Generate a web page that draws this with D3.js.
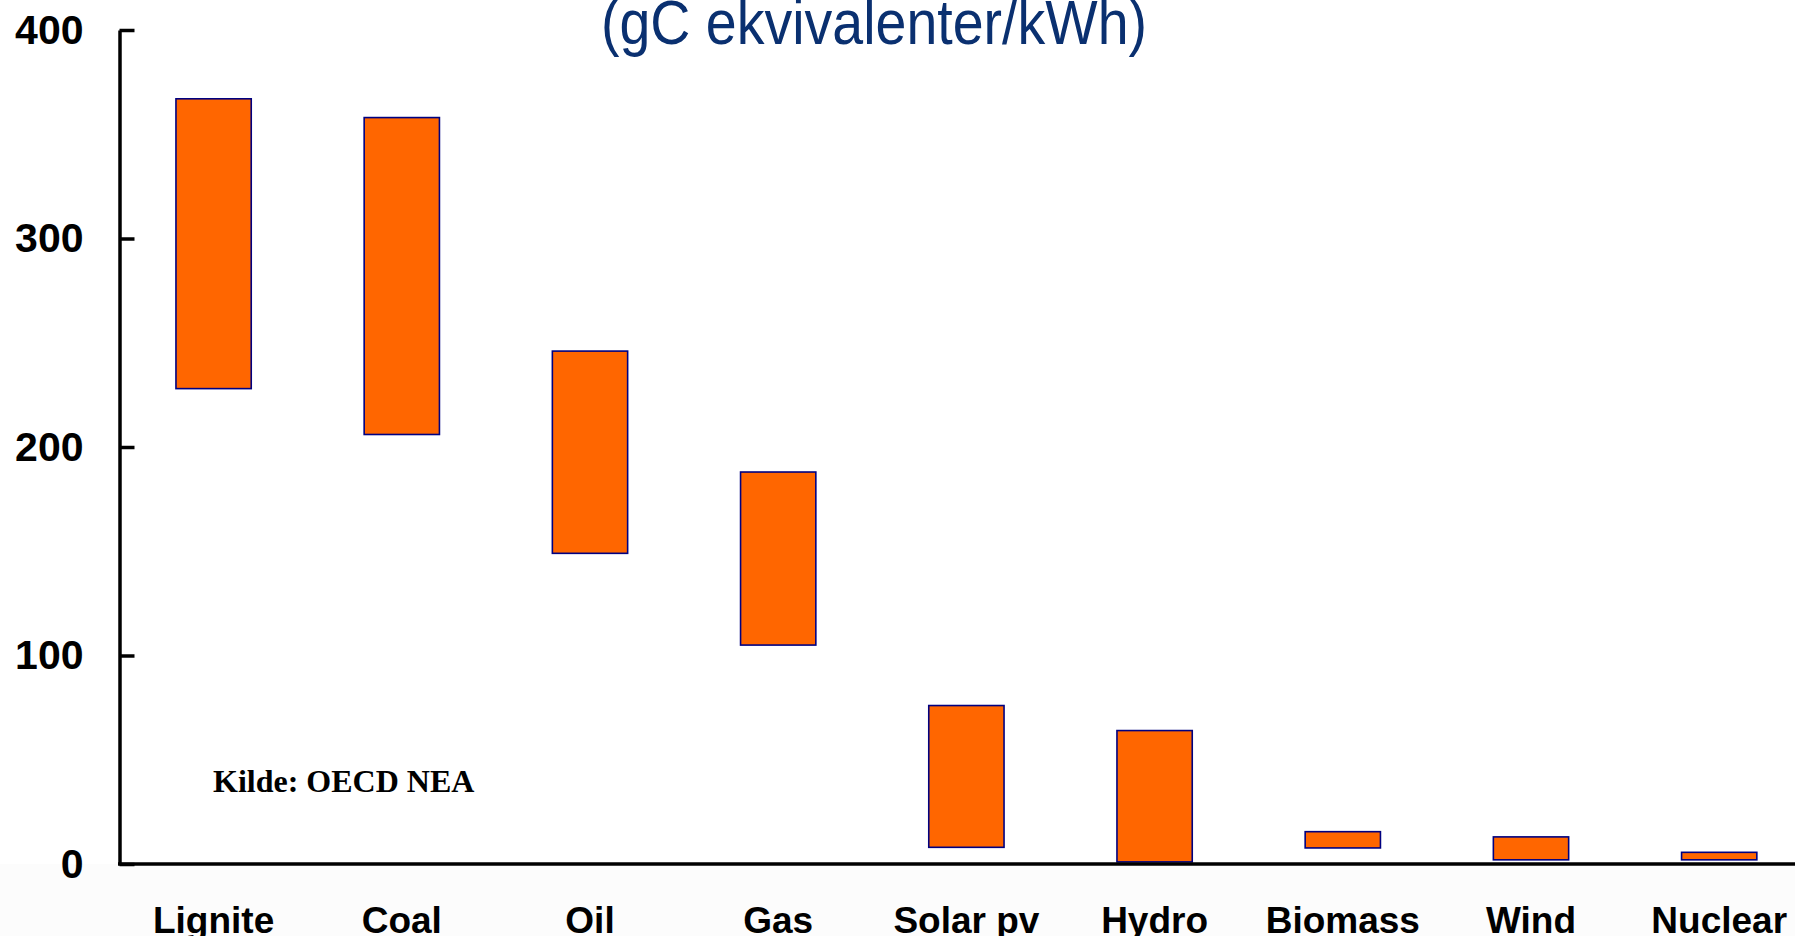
<!DOCTYPE html>
<html>
<head>
<meta charset="utf-8">
<script src="https://cdn.jsdelivr.net/npm/d3@7"></script>
<style>
  body { margin: 0; background: #ffffff; }
  svg { display: block; }
</style>
</head>
<body>
<svg id="chart" width="1795" height="936"></svg>
<script>
// data (gC ekvivalenter/kWh), low and high end per source
const categories = ["Lignite", "Coal", "Oil", "Gas", "Solar pv", "Hydro", "Biomass", "Wind", "Nuclear"];
const lowValues  = [228, 206, 149, 105, 8, 1, 7.7, 2, 2];
const highValues = [367, 358, 246, 188, 76, 64, 15.5, 13, 5.6];
const yTicks = [0, 100, 200, 300, 400];

const svg = d3.select("#chart");
const width = 1795;

// scales
const x = d3.scaleBand()
  .domain(categories)
  .range([119.5, 119.5 + 9 * 188.2])
  .paddingInner(0.6)
  .paddingOuter(0.3);

const y = d3.scaleLinear()
  .domain([0, 400])
  .range([864, 30]);

// faint grey strip under the x axis, like the slide
svg.append("rect")
  .attr("x", 0)
  .attr("y", y(0))
  .attr("width", width)
  .attr("height", 936 - y(0))
  .attr("fill", "#fcfcfc");

// floating bars
const rows = categories.map((c, i) => ({ name: c, low: lowValues[i], high: highValues[i] }));

svg.selectAll("rect.bar")
  .data(rows)
  .enter()
  .append("rect")
  .attr("class", "bar")
  .attr("x", d => x(d.name))
  .attr("width", x.bandwidth())
  .attr("y", d => y(d.high))
  .attr("height", d => y(d.low) - y(d.high))
  .attr("fill", "#ff6600")
  .attr("stroke", "#000080")
  .attr("stroke-width", 1.6);

// y axis, ticks point inward
const yAxis = svg.append("g")
  .attr("transform", "translate(119.5,0)")
  .call(d3.axisLeft(y).tickValues(yTicks).tickSizeInner(-15).tickSizeOuter(0).tickPadding(36));

yAxis.select(".domain").attr("stroke", "#000").attr("stroke-width", 3.5);
yAxis.selectAll(".tick line").attr("stroke", "#000").attr("stroke-width", 3.5);
yAxis.selectAll(".tick text")
  .attr("font-family", "Liberation Sans, Arial, sans-serif")
  .attr("font-weight", "bold")
  .attr("font-size", "41px")
  .attr("fill", "#000");

// x axis line across the whole width
svg.append("line")
  .attr("x1", 118)
  .attr("x2", width)
  .attr("y1", y(0))
  .attr("y2", y(0))
  .attr("stroke", "#000")
  .attr("stroke-width", 3.5);

// category labels (cut at the bottom edge as in the slide)
svg.selectAll("text.cat")
  .data(categories)
  .enter()
  .append("text")
  .attr("class", "cat")
  .attr("x", d => x(d) + x.bandwidth() / 2)
  .attr("y", 933)
  .attr("text-anchor", "middle")
  .attr("font-family", "Liberation Sans, Arial, sans-serif")
  .attr("font-weight", "bold")
  .attr("font-size", "37px")
  .attr("fill", "#000")
  .text(d => d);

// title (cut at the top of the slide), narrow and tall
svg.append("text")
  .attr("x", 601)
  .attr("y", 44)
  .attr("font-family", "Liberation Sans Narrow, Arial Narrow, Liberation Sans, sans-serif")
  .attr("font-size", "63px")
  .attr("fill", "#0a3070")
  .attr("textLength", 546)
  .attr("lengthAdjust", "spacingAndGlyphs")
  .text("(gC ekvivalenter/kWh)");

// source note
svg.append("text")
  .attr("x", 213)
  .attr("y", 792)
  .attr("font-family", "Liberation Serif, Times New Roman, serif")
  .attr("font-weight", "bold")
  .attr("font-size", "32px")
  .attr("fill", "#000")
  .text("Kilde: OECD NEA");
</script>
</body>
</html>
